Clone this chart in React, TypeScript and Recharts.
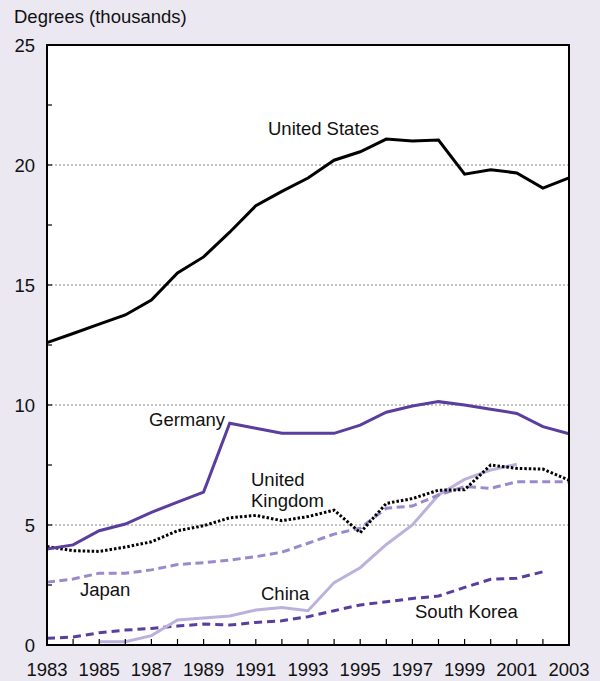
import React from 'react';
import {
  LineChart,
  Line,
  XAxis,
  YAxis,
  ReferenceArea,
  ReferenceLine,
} from 'recharts';

const years = [
  1983, 1984, 1985, 1986, 1987, 1988, 1989, 1990, 1991, 1992, 1993,
  1994, 1995, 1996, 1997, 1998, 1999, 2000, 2001, 2002, 2003,
];

const unitedStates = [
  12.6, 12.98, 13.37, 13.75, 14.37, 15.5, 16.17, 17.2, 18.3, 18.9, 19.46,
  20.2, 20.55, 21.08, 21.0, 21.04, 19.62, 19.8, 19.67, 19.04, 19.46,
];
const germany = [
  4.0, 4.17, 4.76, 5.04, 5.53, 5.95, 6.37, 9.24, 9.03, 8.82, 8.82,
  8.82, 9.16, 9.7, 9.96, 10.14, 10.0, 9.82, 9.65, 9.1, 8.8,
];
const unitedKingdom = [
  4.1, 3.93, 3.9, 4.08, 4.3, 4.76, 4.97, 5.3, 5.4, 5.18, 5.35,
  5.62, 4.68, 5.9, 6.1, 6.45, 6.47, 7.5, 7.36, 7.33, 6.87,
];
const japan = [
  2.62, 2.75, 2.99, 2.99, 3.13, 3.35, 3.43, 3.54, 3.68, 3.87, 4.24,
  4.62, 4.87, 5.7, 5.79, 6.25, 6.6, 6.53, 6.8, 6.8, 6.8,
];
const china = [
  null, null, 0.14, 0.14, 0.39, 1.04, 1.12, 1.21, 1.46, 1.56, 1.43,
  2.6, 3.22, 4.19, 5.0, 6.25, 6.9, 7.29, 7.53, null, null,
];
const southKorea = [
  0.28, 0.33, 0.51, 0.62, 0.69, 0.79, 0.87, 0.83, 0.94, 1.01, 1.18,
  1.43, 1.67, 1.8, 1.94, 2.04, 2.4, 2.74, 2.78, 3.05, null,
];

const yTicks = [0, 2.5, 5, 7.5, 10, 12.5, 15, 17.5, 20, 22.5, 25];
const gridValues = [5, 10, 15, 20];

// series name labels: [text lines, x, baseline y]
const seriesLabels: [string[], number, number][] = [
  [['United States'], 268, 135],
  [['Germany'], 149, 426],
  [['United', 'Kingdom'], 251, 486],
  [['Japan'], 80, 596],
  [['China'], 261, 600],
  [['South Korea'], 415, 618],
];

const data = years.map((year, i) => ({
  year,
  us: unitedStates[i],
  de: germany[i],
  uk: unitedKingdom[i],
  jp: japan[i],
  cn: china[i],
  kr: southKorea[i],
}));

const FONT = '"Liberation Sans", Arial, Helvetica, sans-serif';
const FS = 18.5;
const DARK_PURPLE = '#5a3e9e';
const MID_PURPLE = '#9a8acb';
const LIGHT_PURPLE = '#bcb1dc';

const LeftTick = (props: any) => {
  const { x, y, payload } = props;
  const v = payload.value;
  return (
    <g>
      <line x1={x} y1={y} x2={x + 5} y2={y} stroke="#000" strokeWidth={1.2} />
      {v % 5 === 0 && (
        <text x={x - 12} y={y} dy={6.5} textAnchor="end" fontSize={FS} fill="#111" fontFamily={FONT}>
          {v}
        </text>
      )}
    </g>
  );
};

const RightTick = (props: any) => {
  const { x, y } = props;
  return <line x1={x} y1={y} x2={x - 5} y2={y} stroke="#000" strokeWidth={1.2} />;
};

const BottomTick = (props: any) => {
  const { x, y, payload } = props;
  const v = payload.value;
  return (
    <g>
      <line x1={x} y1={y} x2={x} y2={y - 6} stroke="#000" strokeWidth={1.2} />
      {v % 2 === 1 && (
        <text x={x} y={y + 31} textAnchor="middle" fontSize={FS} fill="#111" fontFamily={FONT}>
          {v}
        </text>
      )}
    </g>
  );
};

export default function App() {
  return (
    <div
      style={{
        position: 'absolute',
        left: 0,
        top: 0,
        width: 600,
        height: 681,
        background: '#ebe8f2',
      }}
    >
      <LineChart
        width={600}
        height={681}
        data={data}
        margin={{ top: 45, right: 0, left: 0, bottom: 0 }}
      >
        <XAxis
          dataKey="year"
          type="number"
          domain={[1983, 2003]}
          ticks={years}
          interval={0}
          height={36}
          tickSize={0}
          tickMargin={0}
          tickLine={false}
          tick={<BottomTick />}
          axisLine={{ stroke: '#000', strokeWidth: 2 }}
        />
        <YAxis
          type="number"
          domain={[0, 25]}
          ticks={yTicks}
          interval={0}
          width={47}
          tickSize={0}
          tickMargin={0}
          tickLine={false}
          tick={<LeftTick />}
          axisLine={{ stroke: '#000', strokeWidth: 2 }}
        />
        <YAxis
          yAxisId="r"
          orientation="right"
          type="number"
          domain={[0, 25]}
          ticks={yTicks}
          interval={0}
          width={31}
          tickSize={0}
          tickMargin={0}
          tickLine={false}
          tick={<RightTick />}
          axisLine={{ stroke: '#000', strokeWidth: 2 }}
        />
        <ReferenceArea
          x1={1983}
          x2={2003}
          y1={0}
          y2={25}
          fill="#ffffff"
          fillOpacity={1}
          stroke="#000"
          strokeWidth={2}
        />
        {gridValues.map((v) => (
          <ReferenceLine key={v} y={v} stroke="#8a8a8a" strokeDasharray="2 2" strokeWidth={1} />
        ))}
        <Line dataKey="kr" stroke={DARK_PURPLE} strokeWidth={3} strokeDasharray="8 5" dot={false} activeDot={false} isAnimationActive={false} />
        <Line dataKey="cn" stroke={LIGHT_PURPLE} strokeWidth={3} dot={false} activeDot={false} isAnimationActive={false} />
        <Line dataKey="jp" stroke={MID_PURPLE} strokeWidth={3} strokeDasharray="8 4.5" dot={false} activeDot={false} isAnimationActive={false} />
        <Line dataKey="uk" stroke="#000" strokeWidth={3} strokeDasharray="2.5 2" dot={false} activeDot={false} isAnimationActive={false} />
        <Line dataKey="de" stroke={DARK_PURPLE} strokeWidth={3} dot={false} activeDot={false} isAnimationActive={false} />
        <Line dataKey="us" stroke="#000" strokeWidth={3} dot={false} activeDot={false} isAnimationActive={false} />
      </LineChart>
      <svg
        width={600}
        height={681}
        style={{ position: 'absolute', left: 0, top: 0, pointerEvents: 'none' }}
      >
        <g fontSize={FS} fill="#111" fontFamily={FONT}>
          <text x={14} y={23}>Degrees (thousands)</text>
          {seriesLabels.map(([lines, x, y]) =>
            lines.map((line, j) => (
              <text key={line} x={x} y={y + j * 21}>
                {line}
              </text>
            ))
          )}
        </g>
      </svg>
    </div>
  );
}
